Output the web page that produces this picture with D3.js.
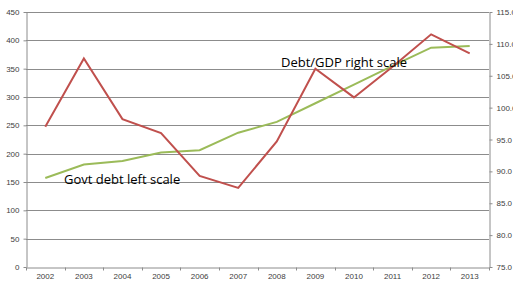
<!DOCTYPE html>
<html>
<head>
<meta charset="utf-8">
<script src="https://cdn.jsdelivr.net/npm/d3@7"></script>
<style>
  body { margin: 0; background: #fff; }
  .axis text { font-family: "Liberation Sans", Arial, sans-serif; font-size: 8px; fill: #404040; }
  .axis path, .axis line { stroke: #8c8c8c; }
  .note { font-family: "Open Sans", "Liberation Sans", sans-serif; font-size: 13px; fill: #000; }
</style>
</head>
<body>
<div id="chart"></div>
<script>
// years on the x axis
var years = ["2002", "2003", "2004", "2005", "2006", "2007", "2008", "2009", "2010", "2011", "2012", "2013"];
// govt debt (left scale)
var govtDebt = [157, 181, 187, 202, 206, 237, 256, 289, 322, 355, 387, 390];
// debt / GDP (right scale)
var debtGdp = [97.0, 107.7, 98.2, 96.0, 89.3, 87.4, 94.7, 106.1, 101.6, 106.4, 111.5, 108.5];
var leftTicks = [0, 50, 100, 150, 200, 250, 300, 350, 400, 450];
var rightTicks = [75, 80, 85, 90, 95, 100, 105, 110, 115];

var W = 513, H = 281;
var margin = {top: 12, right: 24, bottom: 14, left: 26};
var width = W - margin.left - margin.right;
var height = H - margin.top - margin.bottom;

var svg = d3.select("#chart").append("svg")
    .attr("width", W)
    .attr("height", H)
    .append("g")
    .attr("transform", "translate(" + margin.left + "," + margin.top + ")");

var x = d3.scaleBand().domain(years).range([0, width]);
var yL = d3.scaleLinear().domain([0, 450]).range([height, 0]);
var yR = d3.scaleLinear().domain([75, 115]).range([height, 0]);

// gridlines
svg.append("g")
    .selectAll("line")
    .data(leftTicks.slice(1))
    .enter().append("line")
    .attr("x1", 0).attr("x2", width)
    .attr("y1", d => Math.round(yL(d)) + 0.5)
    .attr("y2", d => Math.round(yL(d)) + 0.5)
    .attr("stroke", "#8c8c8c")
    .attr("stroke-width", 1);

// left axis
svg.append("g")
    .attr("class", "axis")
    .attr("transform", "translate(0.5,0)")
    .call(d3.axisLeft(yL).tickValues(leftTicks).tickSize(3).tickSizeOuter(0).tickPadding(4));

// right axis
svg.append("g")
    .attr("class", "axis")
    .attr("transform", "translate(" + (width + 0.5) + ",0)")
    .call(d3.axisRight(yR).tickValues(rightTicks).tickFormat(d3.format(".1f")).tickSize(3).tickSizeOuter(0).tickPadding(4));

// bottom axis with ticks between categories
var xAxis = svg.append("g")
    .attr("class", "axis")
    .attr("transform", "translate(0," + (height + 0.5) + ")")
    .call(d3.axisBottom(x).tickSize(0).tickPadding(6));
xAxis.selectAll(".between")
    .data(years.concat(["end"]))
    .enter().append("line")
    .attr("class", "between")
    .attr("x1", (d, i) => Math.round(i * x.step()) + 0.5)
    .attr("x2", (d, i) => Math.round(i * x.step()) + 0.5)
    .attr("y1", 0).attr("y2", 3)
    .attr("stroke", "#8c8c8c");

// lines
var cx = d => x(d) + x.bandwidth() / 2;

svg.append("path")
    .datum(govtDebt)
    .attr("fill", "none")
    .attr("stroke", "#9bbb59")
    .attr("stroke-width", 2)
    .attr("d", d3.line().x((d, i) => cx(years[i])).y(d => yL(d)));

svg.append("path")
    .datum(debtGdp)
    .attr("fill", "none")
    .attr("stroke", "#c0504d")
    .attr("stroke-width", 2)
    .attr("d", d3.line().x((d, i) => cx(years[i])).y(d => yR(d)));

// text notes
svg.append("text").attr("class", "note")
    .attr("x", 64 - margin.left).attr("y", 184 - margin.top)
    .text("Govt debt left scale");

svg.append("text").attr("class", "note")
    .attr("x", 281 - margin.left).attr("y", 67 - margin.top)
    .text("Debt/GDP right scale");
</script>
</body>
</html>
